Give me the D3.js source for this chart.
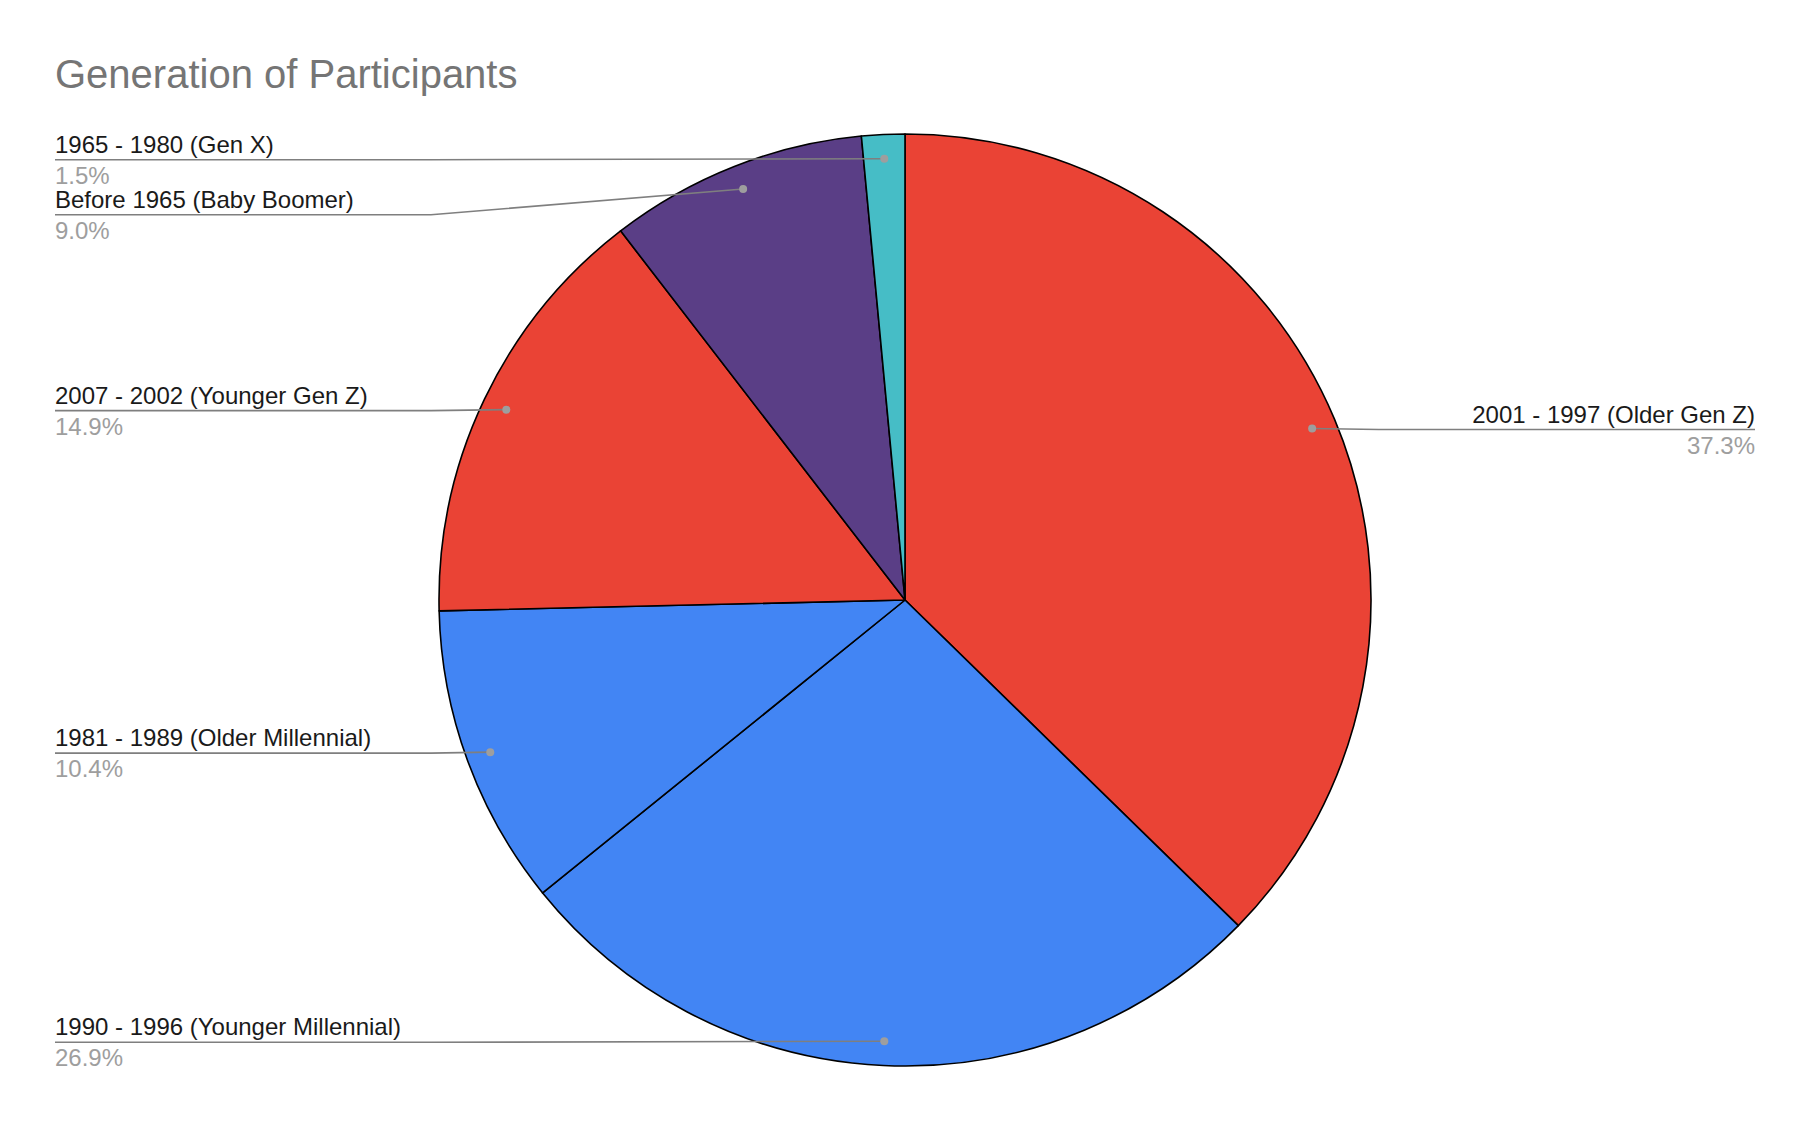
<!DOCTYPE html>
<html>
<head>
    <meta charset="UTF-8">
    <style>
        *{
            margin: 0;
            padding: 0;
        }
        body{
            background-color: #fff;
        }
        #chart{
            background-color: #fff;
            font-family: Arial, "Liberation Sans", sans-serif;
        }
        .title {
            fill: #757575;
            font-size: 40px;
        }
        .lbl {
            fill: #1a1a1a;
            font-size: 24px;
        }
        .pct {
            fill: #9e9e9e;
            font-size: 24px;
        }
        .leader {
            fill: none;
            stroke: #7f7f7f;
            stroke-width: 1.6;
        }
    </style>
    <script src="https://d3js.org/d3.v7.min.js"></script>
    <title>Generation of Participants</title>
</head>
<body>
<svg id="chart" width="1812" height="1121"></svg>
<script>
    // participants per generation, clockwise from 12 o'clock
    var categories = [
        "2001 - 1997 (Older Gen Z)",
        "1990 - 1996 (Younger Millennial)",
        "1981 - 1989 (Older Millennial)",
        "2007 - 2002 (Younger Gen Z)",
        "Before 1965 (Baby Boomer)",
        "1965 - 1980 (Gen X)"
    ];
    var counts = [25, 18, 7, 10, 6, 1];
    var colors = ["#ea4335", "#4285f4", "#4285f4", "#ea4335", "#5a3e86", "#46bdc6"];

    var svg = d3.select("#chart"),
        cx = 905, cy = 600, r = 466,
        leftX = 55, rightX = 1755, gap = 55;

    svg.append("text")
        .attr("class", "title")
        .attr("x", 55).attr("y", 88)
        .text("Generation of Participants");

    var data = categories.map(function (c, i) {
        return {name: c, value: counts[i], color: colors[i]};
    });
    var total = d3.sum(counts);
    var fmt = d3.format(".1%");

    var pie = d3.pie().sort(null).value(function (d) { return d.value; });
    var arcs = pie(data);
    var arc = d3.arc().innerRadius(0).outerRadius(r);

    var g = svg.append("g")
        .attr("transform", "translate(" + cx + "," + cy + ")");

    g.selectAll(".slice")
        .data(arcs)
        .enter()
        .append("path")
        .attr("class", "slice")
        .attr("d", arc)
        .attr("fill", function (d) { return d.data.color; })
        .attr("stroke", "#000")
        .attr("stroke-width", 1.6)
        .attr("stroke-linejoin", "round");

    // anchor dots near the rim, labels pushed apart on each side
    var labels = arcs.map(function (d) {
        var a = (d.startAngle + d.endAngle) / 2;
        var px = cx + Math.sin(a) * r * 0.948,
            py = cy - Math.cos(a) * r * 0.948;
        return {d: d, px: px, py: py, right: Math.sin(a) > 0, y: py};
    });

    [true, false].forEach(function (side) {
        var list = labels.filter(function (l) { return l.right === side; })
            .sort(function (a, b) { return a.py - b.py; });
        var prev = -Infinity;
        list.forEach(function (l) {
            l.y = Math.max(l.py + 1, prev + gap);
            prev = l.y;
        });
    });

    labels.forEach(function (l) {
        var ex = l.right ? cx + r + 8 : cx - r - 8,
            tx = l.right ? rightX : leftX;
        svg.append("path")
            .attr("class", "leader")
            .attr("d", "M" + tx + "," + l.y + "L" + ex + "," + l.y + "L" + l.px + "," + l.py);
        svg.append("circle")
            .attr("cx", l.px).attr("cy", l.py).attr("r", 4)
            .attr("fill", "#9e9e9e");
        svg.append("text")
            .attr("class", "lbl")
            .attr("x", tx).attr("y", l.y - 7)
            .attr("text-anchor", l.right ? "end" : "start")
            .text(l.d.data.name);
        svg.append("text")
            .attr("class", "pct")
            .attr("x", tx).attr("y", l.y + 24)
            .attr("text-anchor", l.right ? "end" : "start")
            .text(fmt(l.d.data.value / total));
    });
</script>
</body>
</html>
